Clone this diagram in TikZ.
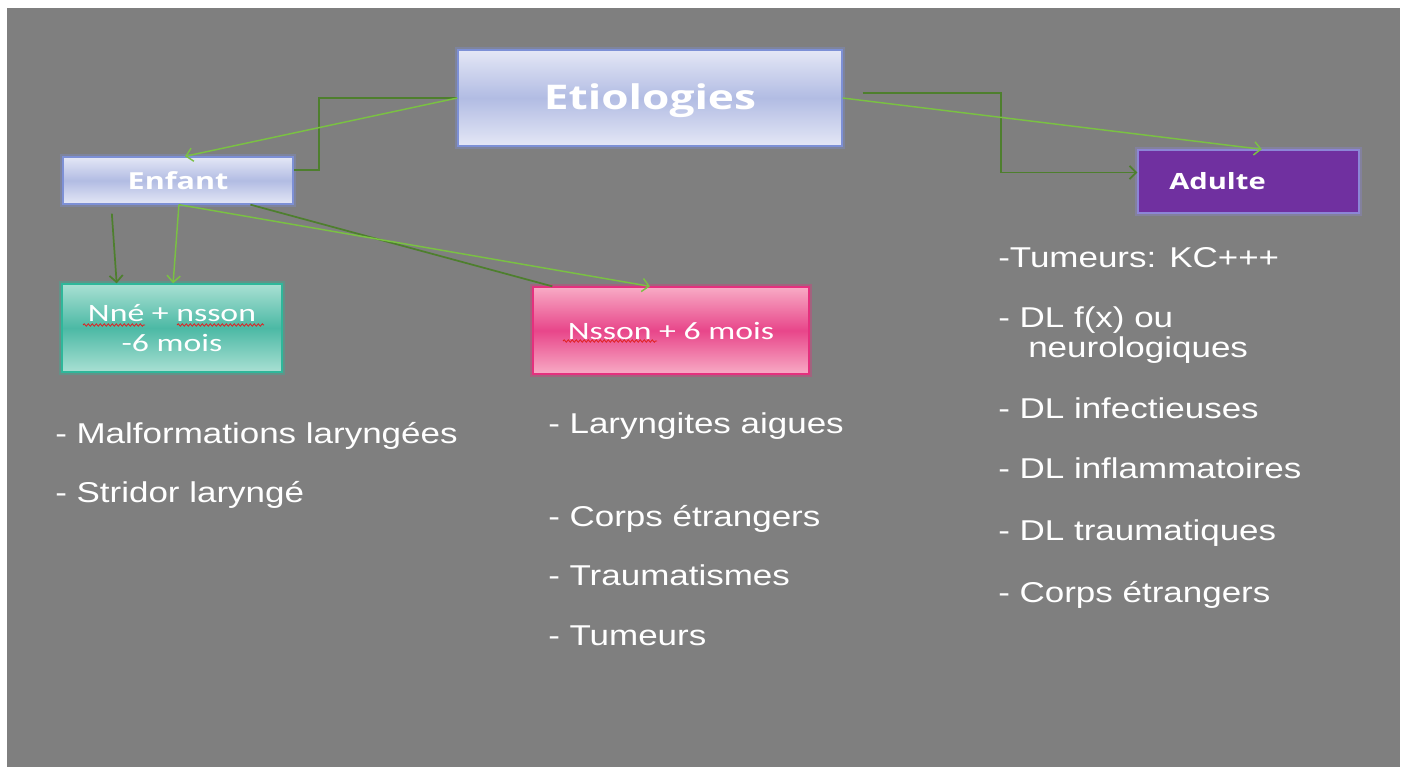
\documentclass[tikz,border=0pt]{standalone}
\usepackage{fontspec}
\setmainfont{Liberation Sans}
\newfontfamily\listfont[FakeStretch=1.22]{Liberation Sans}
\newfontfamily\headfont[FakeStretch=1.3]{Open Sans}
\newfontfamily\boxfont[FakeStretch=1.35]{Carlito}
\usetikzlibrary{arrows.meta,calc,decorations.pathmorphing}
\definecolor{bg}{HTML}{7F7F7F}
\definecolor{lavtop}{HTML}{E4E7F6}
\definecolor{lavmid}{HTML}{B2BCE3}
\definecolor{lavbrd}{HTML}{7D90D6}
\definecolor{purp}{HTML}{7030A0}
\definecolor{purpbrd}{HTML}{8C86D6}
\definecolor{tealtop}{HTML}{A9E0D3}
\definecolor{tealmid}{HTML}{4CB9A5}
\definecolor{tealbrd}{HTML}{2FB79A}
\definecolor{pinktop}{HTML}{F8ABC5}
\definecolor{pinkmid}{HTML}{E8468A}
\definecolor{pinkbrd}{HTML}{E5307E}
\definecolor{dkgreen}{HTML}{4E7F2E}
\definecolor{ltgreen}{HTML}{7AC143}
\definecolor{squig}{HTML}{E02020}
\tikzset{
  glow/.style={preaction={draw=#1,line width=4pt,draw opacity=0.35}},
  boxbase/.style={rectangle,inner sep=0pt,text=white,align=center},
  lavbox/.style={boxbase,top color=lavtop,bottom color=lavtop,middle color=lavmid,draw=lavbrd,line width=1pt,glow=lavbrd},
  purpbox/.style={boxbase,fill=purp,draw=purpbrd,line width=1pt,glow=purpbrd},
  tealbox/.style={boxbase,top color=tealtop,bottom color=tealtop,middle color=tealmid,draw=tealbrd,line width=1pt,glow=tealbrd},
  pinkbox/.style={boxbase,top color=pinktop,bottom color=pinktop,middle color=pinkmid,draw=pinkbrd,line width=1pt,glow=pinkbrd},
  dkline/.style={draw=dkgreen,line width=1.3pt},
  ltline/.style={draw=ltgreen,line width=1.1pt},
  tip/.style={-{Straight Barb[length=5pt,width=10pt]}},
  lst/.style={anchor=base west,inner sep=0pt,text=white,font=\listfont\fontsize{21.5}{26}\selectfont},
  wavy/.style={draw=squig,line width=0.6pt,decorate,decoration={snake,amplitude=0.9pt,segment length=3pt}}
}
\begin{document}
\begin{tikzpicture}[x=0.75pt,y=-0.75pt]
\path[use as bounding box,fill=white] (0,0) rectangle (1405,767);
\fill[bg] (7,8) rectangle (1400,767);

% boxes
\node[lavbox,minimum width=288pt,minimum height=72pt,font=\headfont\bfseries\fontsize{25.5}{30}\selectfont] (etio) at (650,98) {\raisebox{-8.5pt}[0pt][0pt]{Etiologies}};
\node[lavbox,minimum width=172.5pt,minimum height=35.25pt,font=\headfont\bfseries\fontsize{17.6}{20}\selectfont] (enf) at (178,180.5) {Enfant};
\node[purpbox,minimum width=165.75pt,minimum height=47.25pt,font=\headfont\bfseries\fontsize{16.8}{20}\selectfont] (adu) at (1248.5,181.5) {\hspace*{-46.5pt}Adulte};
\node[tealbox,minimum width=165pt,minimum height=66pt,font=\boxfont\fontsize{18.75}{23.25}\selectfont] (nne) at (172,328) {\raisebox{-1pt}{Nné + nsson}\\-6 mois};
\node[pinkbox,minimum width=207pt,minimum height=65.25pt,font=\boxfont\fontsize{18.75}{23.25}\selectfont] (nss) at (671,330.5) {Nsson + 6 mois};

% spell-check underlines
\draw[wavy] (83,325) -- (145,325);
\draw[wavy] (177,325) -- (264,325);
\draw[wavy] (563,341) -- (657,341);

% connectors
\draw[dkline] (etio.west) -- ++(-138,0) |- ($(enf.north east)!0.28!(enf.south east)$);
\draw[ltline,tip] (etio.west) -- ($(enf.north west)!0.53!(enf.north east)$);
\draw[dkline,tip] ([xshift=15pt,yshift=3.75pt]etio.east) -- ++(138,0) |- ($(adu.north west)!0.36!(adu.south west)$);
\draw[ltline,tip] (etio.east) -- ($(adu.north west)!0.56!(adu.north east)$);
\draw[dkline,tip] ($(enf.south west)!0.214!(enf.south east)+(0,9)$) -- ($(nne.north west)!0.25!(nne.north east)$);
\draw[ltline,tip] ($(enf.south west)!0.504!(enf.south east)$) -- ($(nne.north west)!0.505!(nne.north east)$);
\draw[dkline] ($(enf.south west)!0.813!(enf.south east)$) -- ($(nss.north west)!0.072!(nss.north east)$);
\draw[ltline,tip] ($(enf.south west)!0.504!(enf.south east)$) -- ($(nss.north west)!0.424!(nss.north east)$);

% lists
\node[lst] (a1) at (55,443) {- Malformations laryngées};
\node[lst] (a2) at (55,502) {- Stridor laryngé};
\node[lst] (b1) at (548,433) {- Laryngites aigues};
\node[lst] (b2) at (548,526) {- Corps étrangers};
\node[lst] (b3) at (548,585) {- Traumatismes};
\node[lst] (b4) at (548,645) {- Tumeurs};
\node[lst] (c1) at (998,267) {-Tumeurs: KC+++};
\node[lst] (c2) at (998,327) {- DL f(x) ou};
\node[lst] (c3) at (1028,357) {neurologiques};
\node[lst] (c4) at (998,418) {- DL infectieuses};
\node[lst] (c5) at (998,478) {- DL inflammatoires};
\node[lst] (c6) at (998,540) {- DL traumatiques};
\node[lst] (c7) at (998,602) {- Corps étrangers};
\end{tikzpicture}
\end{document}
